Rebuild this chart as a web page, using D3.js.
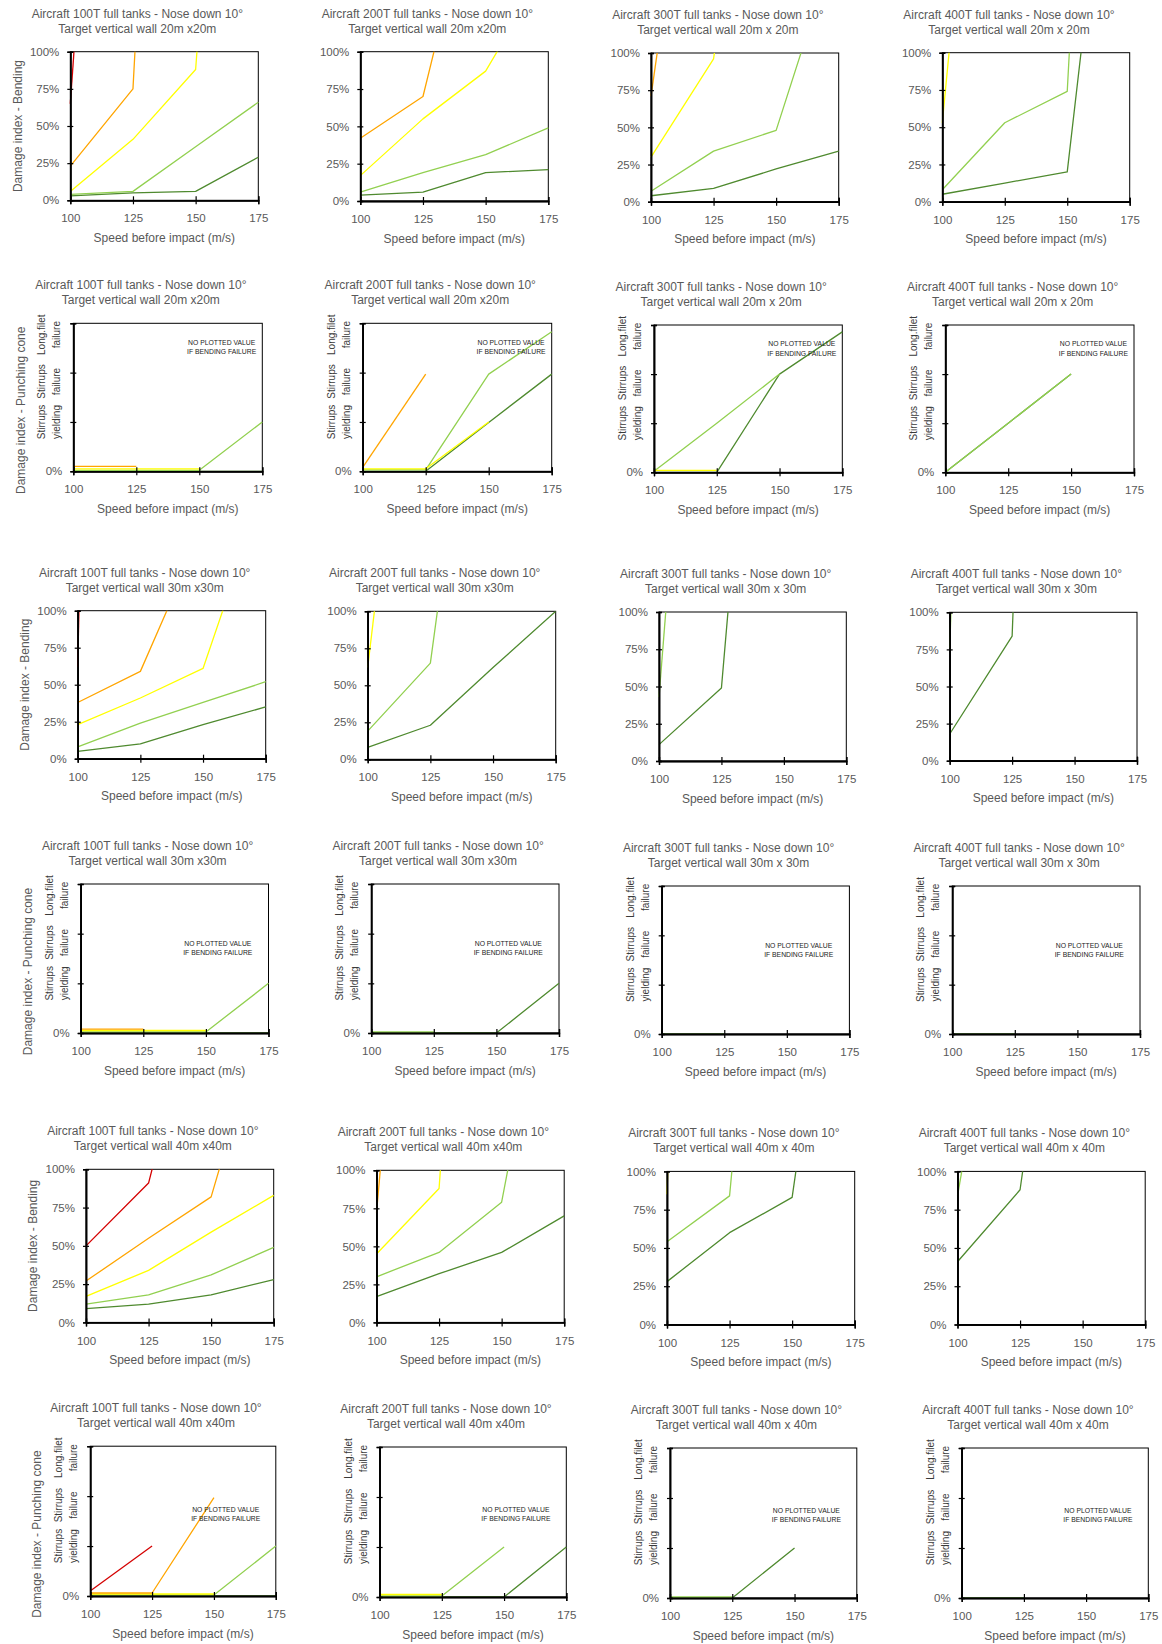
<!DOCTYPE html>
<html><head><meta charset="utf-8">
<script src="https://cdn.jsdelivr.net/npm/d3@7"></script>
<style>
body{margin:0;background:#fff}
svg{display:block}
text{font-family:"Liberation Sans",Arial,sans-serif}
</style>
</head><body>
<svg id="chart" width="1162" height="1644"></svg>
<script>
const N = null;
// ---------- data ----------
const speeds = [100, 125, 150, 175];
const aircraft = ["100T", "200T", "300T", "400T"];
const walls20 = ["20m x20m", "20m x20m", "20m x 20m", "20m x 20m"];
const walls30 = ["30m x30m", "30m x30m", "30m x 30m", "30m x 30m"];
const walls40 = ["40m x40m", "40m x40m", "40m x 40m", "40m x 40m"];
const seriesKeys = ["red", "orange", "yellow", "lightGreen", "darkGreen"];
const bendTicks = [0, 25, 50, 75, 100];
const punchTicks = [0, 1, 2, 3];
const punchLabels = [["Stirrups", "yielding"], ["Stirrups", "failure"], ["Long.filet", "failure"]];
const punchLabelLevels = [1.0, 1.82, 2.77];
const yTitleBending = "Damage index - Bending";
const yTitlePunching = "Damage index - Punching cone";
const xTitle = "Speed before impact (m/s)";
const noteLines = ["NO PLOTTED VALUE", "IF BENDING FAILURE"];

// Bending damage index (%) per series [red, orange, yellow, lightGreen, darkGreen] at speeds 100..175
const bend20_100T = [[65, 664, N, N], [23, 75, 865, N], [6, 41, 88, 668], [4, 6, 36, 66], [3, 5, 6, 29]];
const bend20_200T = [[N, N, N, N], [42, 70, 241, N], [17, 55, 87, 158], [6, 19, 31, 49], [4, 6, 19, 21]];
const bend20_300T = [[N, N, N, N], [71, 365, N, N], [30, 96, 396, N], [7, 34, 48, 179], [4, 9, 22, 34]];
const bend20_400T = [[N, N, N, N], [N, N, N, N], [53, 488, N, N], [8, 53, 74, 854], [5, 12.5, 20, 383]];

const bend30_100T = [[62, 2000, N, N], [38, 59, 156, N], [23, 41, 61, 185], [8, 24, 38, 52], [5, 10, 23, 35]];
const bend30_200T = [[N, N, N, N], [N, N, N, N], [62, 418, N, N], [19, 65, 378, N], [8, 23, 62, 100]];
const bend30_300T = [[N, N, N, N], [N, N, N, N], [N, N, N, N], [43, 571, N, N], [11, 49, 537, N]];
const bend30_400T = [[N, N, N, N], [N, N, N, N], [N, N, N, N], [76, 1290, N, N], [18, 84, 1205, N]];

const bend40_100T = [[50, 91, 251, N], [27, 55, 82, 221], [17, 34, 59, 83], [12, 18, 31, 49], [9, 12, 18, 28]];
const bend40_200T = [[N, N, N, N], [72, 539, N, N], [45, 88, 673, N], [30, 46, 79, 295], [17, 32, 46, 70]];
const bend40_300T = [[N, N, N, N], [N, N, N, N], [85, 1300, N, N], [54, 84, 523, N], [28, 60, 83, 368]];
const bend40_400T = [[N, N, N, N], [N, N, N, N], [N, N, N, N], [84, 319, N, N], [41, 88, 378, N]];

// Punching cone damage level (0 = none, 1 = stirrups yielding, 2 = stirrups failure, 3 = long. filet failure)
const punch20_100T = [[N, N, N, N], [0.1, 0.1, N, N], [0.05, 0.05, 0.05, N], [0.02, 0.02, 0.02, 1.0], [0, 0, 0, 0]];
const punch20_200T = [[N, N, N, N], [0.08, 1.97, N, N], [0.05, 0.05, 1.0, N], [0.03, 0.03, 1.97, 2.83], [0, 0, 0.99, 1.97]];
const punch20_300T = [[N, N, N, N], [N, N, N, N], [0.04, 0.04, N, N], [0.02, 1.0, 2.0, N], [0, 0, 2.0, 2.86]];
const punch20_400T = [[N, N, N, N], [N, N, N, N], [N, N, N, N], [0, 1.0, 2.0, N], [0, 1.0, 2.0, N]];

const punch30_100T = [[N, N, N, N], [0.08, 0.08, N, N], [0.05, 0.05, 0.05, N], [0.02, 0.02, 0.02, 1.0], [0, 0, 0, 0]];
const punch30_200T = [[N, N, N, N], [N, N, N, N], [N, N, N, N], [0.02, 0.02, N, N], [0, 0, 0, 1.0]];
const punch30_300T = [[N, N, N, N], [N, N, N, N], [N, N, N, N], [N, N, N, N], [0, 0, N, N]];
const punch30_400T = [[N, N, N, N], [N, N, N, N], [N, N, N, N], [N, N, N, N], [0, 0, N, N]];

const punch40_100T = [[0.1, 1.0, N, N], [0.06, 0.06, 1.97, N], [0.04, 0.04, 0.04, N], [0.02, 0.02, 0.02, 1.0], [0, 0, 0, 0]];
const punch40_200T = [[N, N, N, N], [N, N, N, N], [0.05, 0.05, N, N], [0.02, 0.02, 1.0, N], [0, 0, 0, 1.0]];
const punch40_300T = [[N, N, N, N], [N, N, N, N], [N, N, N, N], [0.02, 0.02, N, N], [0, 0, 1.0, N]];
const punch40_400T = [[N, N, N, N], [N, N, N, N], [N, N, N, N], [N, N, N, N], [0, 0, N, N]];

// ---------- styles / layout ----------
const colors = {red: "#d40000", orange: "#ffa500", yellow: "#ffff00", lightGreen: "#92d050", darkGreen: "#4f8a2f"};
const drawOrder = ["darkGreen", "lightGreen", "yellow", "orange", "red"];
const textGrey = "#595959";

const rows = [
  {type: "bend", walls: walls20, data: [bend20_100T, bend20_200T, bend20_300T, bend20_400T],
   rects: [[70.3, 51.7, 258.3, 200.3], [360.3, 51.7, 548.3, 201], [651, 53, 838.7, 201.7], [942.3, 52.7, 1129.7, 201.7]]},
  {type: "punch", walls: walls20, data: [punch20_100T, punch20_200T, punch20_300T, punch20_400T], note: [0.785, 19, 28.5],
   rects: [[73.3, 323.3, 262.3, 471.3], [362.7, 323.3, 551.7, 471.3], [654, 325, 842.3, 472.3], [945.3, 325, 1134, 472.3]]},
  {type: "bend", walls: walls30, data: [bend30_100T, bend30_200T, bend30_300T, bend30_400T],
   rects: [[77.7, 610.7, 265.7, 758.7], [367.7, 611.3, 555.7, 759.3], [659, 612, 846.3, 761], [949.7, 612.3, 1137, 760.7]]},
  {type: "punch", walls: walls30, data: [punch30_100T, punch30_200T, punch30_300T, punch30_400T], note: [0.73, 60, 69],
   rects: [[80.7, 884, 268.5, 1033], [371.2, 884, 559, 1033], [661.7, 886, 849.4, 1034], [952.2, 886, 1140, 1034]]},
  {type: "bend", walls: walls40, data: [bend40_100T, bend40_200T, bend40_300T, bend40_400T],
   rects: [[86, 1169.3, 273.7, 1322.4], [376.5, 1170.3, 564.2, 1322.4], [667, 1171.4, 854.7, 1324.5], [957.5, 1171.4, 1145.2, 1324.5]]},
  {type: "punch", walls: walls40, data: [punch40_100T, punch40_200T, punch40_300T, punch40_400T], note: [0.73, 63, 72],
   rects: [[90.2, 1446.2, 275.8, 1596], [379.6, 1447, 566.3, 1597], [670, 1448, 856.8, 1598], [961.7, 1448, 1148.3, 1598]]}
];

const svg = d3.select("#chart");
let clipId = 0;

rows.forEach((row, ri) => {
  row.rects.forEach((rc, ci) => {
    const [l, t, r, b] = rc;
    const g = svg.append("g");
    const x = d3.scaleLinear().domain([100, 175]).range([l, r]);
    const y = row.type === "bend"
      ? d3.scaleLinear().domain([0, 100]).range([b, t])
      : d3.scaleLinear().domain([0, 3]).range([b, t]);

    // title
    const cx = (l + r) / 2 - 27;
    const title = g.append("text").attr("text-anchor", "middle").attr("fill", textGrey).style("font-size", "12px");
    title.append("tspan").attr("x", cx).attr("y", t - 34.2).text(`Aircraft ${aircraft[ci]} full tanks - Nose down 10°`);
    title.append("tspan").attr("x", cx).attr("y", t - 19.2).text(`Target vertical wall ${row.walls[ci]}`);

    // frame
    g.append("rect").attr("x", l).attr("y", t).attr("width", r - l).attr("height", b - t)
      .attr("fill", "none").attr("stroke", "#000").attr("stroke-width", 1);

    // lines
    const id = "clip" + (clipId++);
    g.append("clipPath").attr("id", id).append("rect")
      .attr("x", l - 2).attr("y", t).attr("width", r - l + 4).attr("height", b - t + 3);
    const line = d3.line().defined(d => d[1] != null).x(d => x(d[0])).y(d => y(d[1]));
    const lg = g.append("g").attr("clip-path", `url(#${id})`);
    drawOrder.forEach(key => {
      const vals = row.data[ci][seriesKeys.indexOf(key)];
      const pts = speeds.map((s, i) => [s, vals[i]]);
      lg.append("path").attr("d", line(pts)).attr("fill", "none")
        .attr("stroke", colors[key]).attr("stroke-width", 1.3).attr("stroke-linejoin", "round");
    });

    // x axis
    const xa = g.append("g").attr("transform", `translate(0,${b})`);
    xa.call(d3.axisBottom(x).tickValues(speeds).tickSize(0).tickPadding(14).tickFormat(d3.format("d")));
    g.append("g").attr("transform", `translate(0,${b})`).call(d3.axisBottom(x).tickValues(speeds).tickSize(4).tickFormat(""));
    g.append("g").attr("transform", `translate(0,${b})`).call(d3.axisTop(x).tickValues(speeds).tickSize(4).tickFormat(""));

    // y axis
    const ya = g.append("g").attr("transform", `translate(${l},0)`);
    if (row.type === "bend") {
      ya.call(d3.axisLeft(y).tickValues(bendTicks).tickSize(0).tickPadding(11).tickFormat(d => d + "%"));
    } else {
      ya.call(d3.axisLeft(y).tickValues([0]).tickSize(0).tickPadding(11).tickFormat(() => "0%"));
    }
    const yTicks = row.type === "bend" ? bendTicks : punchTicks;
    g.append("g").attr("transform", `translate(${l},0)`).call(d3.axisLeft(y).tickValues(yTicks).tickSize(3).tickFormat(""));
    g.append("g").attr("transform", `translate(${l},0)`).call(d3.axisRight(y).tickValues(yTicks).tickSize(3).tickFormat(""));

    g.selectAll(".domain").attr("stroke", "#000").attr("stroke-width", 1.4);
    g.selectAll(".tick line").attr("stroke", "#000").attr("stroke-width", 1.2);
    g.selectAll(".tick text").attr("fill", textGrey).style("font-size", "11.5px").style("font-family", "'Liberation Sans',Arial,sans-serif");

    // x title
    g.append("text").attr("x", (l + r) / 2).attr("y", b + 41.5).attr("text-anchor", "middle")
      .attr("fill", textGrey).style("font-size", "12px").text(xTitle);

    // punching labels
    if (row.type === "punch") {
      punchLabels.forEach((lines, k) => {
        const yy = y(punchLabelLevels[k]);
        [-31.6, -16.6].forEach((dx, j) => {
          g.append("text").attr("transform", `translate(${l + dx},${yy}) rotate(-90)`)
            .attr("text-anchor", "middle").attr("dy", "0.35em").attr("fill", "#3a3a3a")
            .style("font-size", "10px").text(lines[j]);
        });
      });
      const [fx, d1, d2] = row.note;
      [d1, d2].forEach((dy, j) => {
        g.append("text").attr("x", l + fx * (r - l)).attr("y", t + dy).attr("dy", "0.35em")
          .attr("text-anchor", "middle").attr("fill", "#222").style("font-size", "6.8px").text(noteLines[j]);
      });
    }

    // y title (first column only)
    if (ci === 0) {
      const cy = (t + b) / 2 + (row.type === "punch" ? 13 : 0);
      g.append("text").attr("transform", `translate(${l - 53},${cy}) rotate(-90)`)
        .attr("text-anchor", "middle").attr("dy", "0.35em").attr("fill", textGrey)
        .style("font-size", "12px").text(row.type === "bend" ? yTitleBending : yTitlePunching);
    }
  });
});
</script>
</body></html>
